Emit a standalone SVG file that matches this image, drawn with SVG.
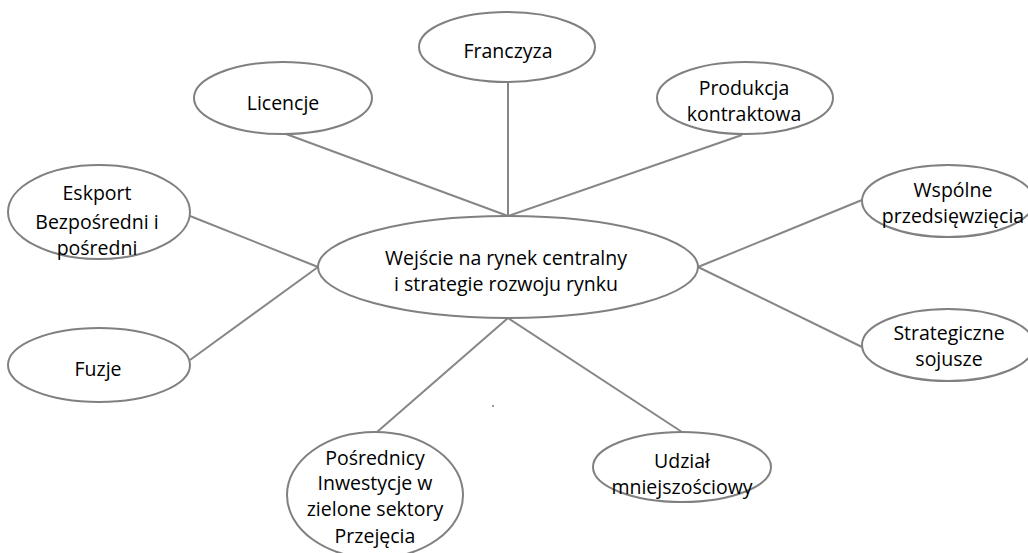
<svg xmlns="http://www.w3.org/2000/svg" width="1028" height="553" viewBox="0 0 1028 553">
<style>
.n ellipse{fill:#fff;stroke:#808080;stroke-width:2}
.c line{stroke:#868686;stroke-width:2}
text{font-family:"Open Sans","Noto Sans",sans-serif;font-size:19.5px;fill:#000;text-anchor:middle;dominant-baseline:central}
</style>
<rect width="1028" height="553" fill="#fff"/>
<g id="connectors" class="c">
<line x1="508" y1="82" x2="508" y2="216"/>
<line x1="286" y1="134" x2="508" y2="216"/>
<line x1="742" y1="135" x2="508" y2="216"/>
<line x1="190" y1="216" x2="318" y2="267"/>
<line x1="190" y1="360" x2="318" y2="267"/>
<line x1="862" y1="200" x2="698" y2="267"/>
<line x1="862" y1="347" x2="698" y2="267"/>
<line x1="377" y1="432" x2="508" y2="318"/>
<line x1="682" y1="432" x2="508" y2="318"/>
</g>
<g id="center" class="n">
<ellipse cx="508" cy="267" rx="190" ry="51"/>
<text x="506" y="257">Wejście na rynek centralny</text>
<text x="506" y="283"> i strategie rozwoju rynku</text>
</g>
<g id="franczyza" class="n">
<ellipse cx="507" cy="47" rx="88" ry="35"/>
<text x="508" y="50">Franczyza</text>
</g>
<g id="licencje" class="n">
<ellipse cx="283" cy="98" rx="89" ry="36"/>
<text x="283" y="102">Licencje</text>
</g>
<g id="produkcja" class="n">
<ellipse cx="745" cy="98" rx="88" ry="36"/>
<text x="744" y="87">Produkcja</text>
<text x="744" y="113">kontraktowa</text>
</g>
<g id="eksport" class="n">
<ellipse cx="99" cy="212" rx="91" ry="47"/>
<text x="97" y="192">Eskport</text>
<text x="97" y="221">Bezpośredni i</text>
<text x="97" y="247">pośredni</text>
</g>
<g id="fuzje" class="n">
<ellipse cx="99" cy="365" rx="91" ry="37"/>
<text x="98" y="368">Fuzje</text>
</g>
<g id="wspolne" class="n">
<ellipse cx="948" cy="201" rx="86" ry="36"/>
<text x="953" y="189">Wspólne</text>
<text x="953" y="215">przedsięwzięcia</text>
</g>
<g id="strategiczne" class="n">
<ellipse cx="948" cy="345" rx="86" ry="36"/>
<text x="949" y="332">Strategiczne</text>
<text x="949" y="358">sojusze</text>
</g>
<g id="posrednicy" class="n">
<ellipse cx="375" cy="495" rx="88" ry="63"/>
<text x="375" y="457">Pośrednicy</text>
<text x="375" y="482">Inwestycje w</text>
<text x="375" y="508">zielone sektory</text>
<text x="375" y="535">Przejęcia</text>
</g>
<g id="udzial" class="n">
<ellipse cx="682" cy="467" rx="89" ry="35"/>
<text x="682" y="460">Udział</text>
<text x="682" y="486">mniejszościowy</text>
</g>
<rect x="492" y="405" width="2" height="2" fill="#999"/>
</svg>
